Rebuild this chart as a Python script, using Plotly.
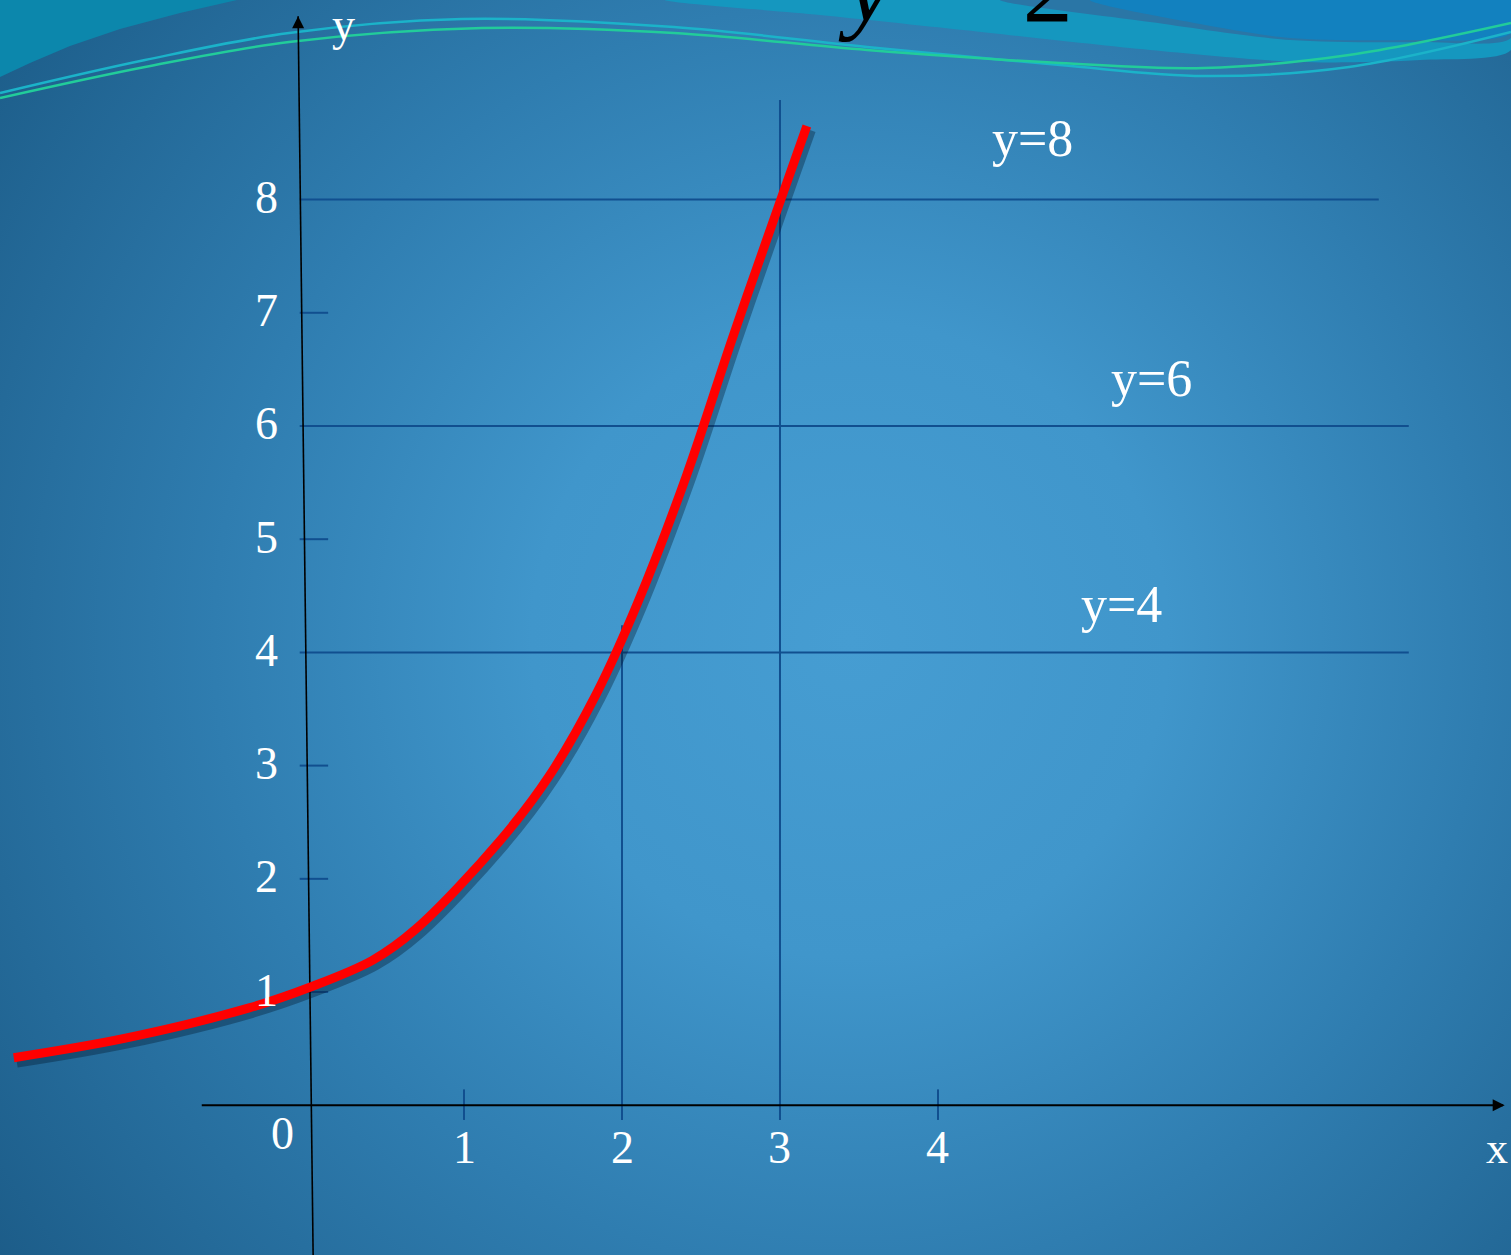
import base64
import plotly.graph_objects as go

# ---------------- data ----------------
curve_x = [-1.85, -1.15, -0.36, 0.02, 0.42, 0.69, 1.23, 1.54, 1.84,
           2.10, 2.41, 2.70, 2.99, 3.17]
curve_y = [0.42, 0.59, 0.86, 1.04, 1.28, 1.55, 2.34, 2.91, 3.64,
           4.44, 5.57, 6.78, 7.94, 8.65]

x_ticks = [0, 1, 2, 3, 4]
x_tick_labels = ["0", "1", "2", "3", "4"]
y_ticks = [1, 2, 3, 4, 5, 6, 7, 8]
y_tick_labels = ["1", "2", "3", "4", "5", "6", "7", "8"]

h_levels = [8, 6, 4]                  # horizontal reference lines
h_ends = [6.79, 6.98, 6.98]           # where each line stops (x)
h_labels = ["y=8", "y=6", "y=4"]
h_label_x = [4.60, 5.35, 5.16]
h_label_y = [8.54, 6.42, 4.42]

v_levels = [2, 3]                     # vertical reference lines
v_tops = [4.24, 8.88]

# decorative header waves (pixel space of the slide)
wave_cyan_x = [0, 145, 289, 462, 674, 867, 1060, 1204, 1349, 1511]
wave_cyan_y = [93, 60, 33, 19, 27, 47, 65, 76, 67, 32]
wave_green_x = [0, 145, 289, 482, 674, 867, 1060, 1204, 1349, 1511]
wave_green_y = [98, 67, 42, 28, 33, 50, 63, 68, 55, 23]
corner_x = [0, 0, 30, 70, 120, 180, 237, 0]
corner_y = [0, 77, 63, 46, 29, 13, 0, 0]
band_x = [665, 820, 963, 1150, 1300, 1420, 1511, 1511, 665]
band_y = [0, 15, 30, 50, 62, 60, 50, 0, 0]
wedge_x = [1000, 1150, 1290, 1420, 1511, 1511, 1000]
wedge_y = [0, 22, 40, 42, 38, 0, 0]
blue_x = [1090, 1200, 1290, 1400, 1511, 1511, 1090]
blue_y = [0, 24, 38, 40, 33, 0, 0]

W, H = 1511, 1255
XR = [-1.937, 7.627]
YR = [-1.323, 9.763]
GRID = "#114f8f"
FONT = "Liberation Serif"

# ---------------- background gradient ----------------
svg = (
    f"<svg xmlns='http://www.w3.org/2000/svg' width='{W}' height='{H}' "
    f"viewBox='0 0 {W} {H}' preserveAspectRatio='none'>"
    "<defs><radialGradient id='g' cx='850' cy='640' r='1060' gradientUnits='userSpaceOnUse'>"
    "<stop offset='0' stop-color='#469dd2'/>"
    "<stop offset='0.3' stop-color='#4096cb'/>"
    "<stop offset='0.6' stop-color='#2f7db0'/>"
    "<stop offset='1' stop-color='#1c5c88'/>"
    "</radialGradient></defs>"
    f"<rect width='{W}' height='{H}' fill='url(#g)'/></svg>"
)
bg_src = "data:image/svg+xml;base64," + base64.b64encode(svg.encode()).decode()

fig = go.Figure()

# ---------------- decorations (pixel axes x/y) ----------------
def deco_fill(xs, ys, color, shape="spline"):
    fig.add_trace(go.Scatter(x=xs, y=ys, mode="lines", fill="toself", fillcolor=color,
                             line=dict(width=0, shape=shape, smoothing=0.8, color=color),
                             hoverinfo="skip", showlegend=False, xaxis="x", yaxis="y"))

deco_fill(corner_x, corner_y, "#0c87ac", "linear")
deco_fill(band_x, band_y, "#1597bf")
deco_fill(wedge_x, wedge_y, "#2a76a6")
deco_fill(blue_x, blue_y, "#1281bf")

fig.add_trace(go.Scatter(x=wave_cyan_x, y=wave_cyan_y, mode="lines",
                         line=dict(color="#1bb3c9", width=2.5, shape="spline"),
                         hoverinfo="skip", showlegend=False, xaxis="x", yaxis="y"))
fig.add_trace(go.Scatter(x=wave_green_x, y=wave_green_y, mode="lines",
                         line=dict(color="#22cc9a", width=2.5, shape="spline"),
                         hoverinfo="skip", showlegend=False, xaxis="x", yaxis="y"))

# ---------------- chart (data axes x2/y2) ----------------
def line2(xs, ys, color, width):
    fig.add_trace(go.Scatter(x=xs, y=ys, mode="lines", line=dict(color=color, width=width),
                             hoverinfo="skip", showlegend=False, xaxis="x2", yaxis="y2"))

# horizontal reference lines
for lvl, end in zip(h_levels, h_ends):
    line2([-0.04, end], [lvl, lvl], GRID, 2)
# vertical reference lines
for lvl, top in zip(v_levels, v_tops):
    line2([lvl, lvl], [-0.13, top], GRID, 2)
# y tick marks
for t in y_ticks:
    if t not in h_levels:
        line2([-0.04, 0.14], [t, t], GRID, 2)
# x tick marks
for t in x_ticks:
    if t not in v_levels and t != 0:
        line2([t, t], [0.14, -0.13], GRID, 2)

# axes
line2([-0.66, XR[1] - 0.05], [0, 0], "black", 2)
line2([-0.05, 0.045], [9.62, YR[0]], "black", 1.6)
# arrow heads
fig.add_trace(go.Scatter(x=[-0.05], y=[9.62], mode="markers",
                         marker=dict(symbol="arrow-up", size=12, color="black"),
                         hoverinfo="skip", showlegend=False, xaxis="x2", yaxis="y2"))
fig.add_trace(go.Scatter(x=[XR[1] - 0.04], y=[0], mode="markers",
                         marker=dict(symbol="arrow-right", size=12, color="black"),
                         hoverinfo="skip", showlegend=False, xaxis="x2", yaxis="y2"))

# curve shadow + curve
dx, dy = 3 / 158, -4 / 113.2
fig.add_trace(go.Scatter(x=[v + dx for v in curve_x], y=[v + dy for v in curve_y], mode="lines",
                         line=dict(color="rgba(0,20,40,0.35)", width=12, shape="spline", smoothing=1),
                         hoverinfo="skip", showlegend=False, xaxis="x2", yaxis="y2"))
fig.add_trace(go.Scatter(x=curve_x, y=curve_y, mode="lines",
                         line=dict(color="#ff0000", width=9, shape="spline", smoothing=1),
                         hoverinfo="skip", showlegend=False, xaxis="x2", yaxis="y2"))

annotations = []
# tick labels
for t, lab in zip(x_ticks, x_tick_labels):
    annotations.append(dict(x=t, y=0, xref="x2", yref="y2", text=lab, showarrow=False,
                            xshift=(-24 if t == 0 else 0), yshift=(-28 if t == 0 else -42),
                            font=dict(family=FONT, size=46, color="white")))
for t, lab in zip(y_ticks, y_tick_labels):
    annotations.append(dict(x=0, y=t, xref="x2", yref="y2", text=lab, showarrow=False,
                            xshift=-40, yshift=2,
                            font=dict(family=FONT, size=46, color="white")))
# line labels
for lab, lx, ly in zip(h_labels, h_label_x, h_label_y):
    annotations.append(dict(x=lx, y=ly, xref="x2", yref="y2", text=lab, showarrow=False,
                            font=dict(family=FONT, size=52, color="white")))
# axis names
annotations.append(dict(x=0.24, y=9.55, xref="x2", yref="y2", text="y", showarrow=False,
                        font=dict(family=FONT, size=46, color="white")))
annotations.append(dict(x=7.54, y=-0.38, xref="x2", yref="y2", text="x", showarrow=False,
                        font=dict(family=FONT, size=44, color="white")))
# title (cut off at the top of the slide)
annotations.append(dict(x=836 / W, y=1 - 45 / H, xref="paper", yref="paper",
                        xanchor="left", yanchor="bottom", showarrow=False,
                        text="<i>y</i>&nbsp;&nbsp;=&nbsp;2<sup><i>x</i></sup>",
                        font=dict(family=FONT, size=100, color="black")))

fig.update_layout(
    width=W, height=H,
    margin=dict(l=0, r=0, t=0, b=0),
    paper_bgcolor="#2f7db0",
    plot_bgcolor="rgba(0,0,0,0)",
    images=[dict(source=bg_src, xref="paper", yref="paper", x=0, y=1, sizex=1, sizey=1,
                 sizing="stretch", layer="below", xanchor="left", yanchor="top")],
    xaxis=dict(range=[0, W], visible=False, fixedrange=True),
    yaxis=dict(range=[H, 0], visible=False, fixedrange=True),
    xaxis2=dict(range=XR, visible=False, overlaying="x", fixedrange=True),
    yaxis2=dict(range=YR, visible=False, overlaying="y", fixedrange=True),
    annotations=annotations,
    showlegend=False,
)

fig.write_html("out.html")
